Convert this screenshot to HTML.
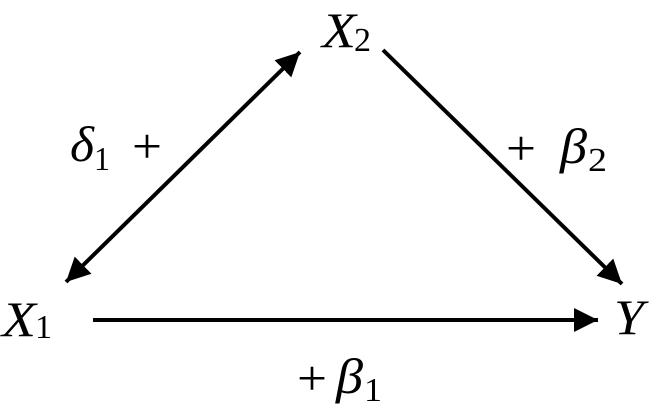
<!DOCTYPE html>
<html><head><style>html,body{margin:0;padding:0;background:#fff}</style></head>
<body>
<svg width="660" height="412" viewBox="0 0 660 412" xmlns="http://www.w3.org/2000/svg">
<defs>
<marker id="a" viewBox="0 0 10 10" refX="10" refY="5" markerWidth="6" markerHeight="6" markerUnits="strokeWidth" orient="auto-start-reverse">
<path d="M0,0 L10,5 L0,10 z" fill="#000"/></marker>
</defs>
<g stroke="#000" stroke-width="4" fill="none">
<line x1="66" y1="282" x2="300" y2="52" marker-start="url(#a)" marker-end="url(#a)"/>
<line x1="383" y1="50" x2="622" y2="284" marker-end="url(#a)"/>
<line x1="93" y1="320" x2="598" y2="320" marker-end="url(#a)"/>
</g>
<g style="font-family:'Liberation Serif',serif" font-size="50" fill="#000">
<text x="322" y="47" font-style="italic" textLength="34" lengthAdjust="spacingAndGlyphs">X</text>
<text x="354" y="51" font-size="34" textLength="17" lengthAdjust="spacingAndGlyphs">2</text>
<text x="2" y="336" font-style="italic" textLength="34" lengthAdjust="spacingAndGlyphs">X</text>
<text x="35" y="338" font-size="34" textLength="17" lengthAdjust="spacingAndGlyphs">1</text>
<text x="614" y="334" font-style="italic" textLength="30" lengthAdjust="spacingAndGlyphs">Y</text>
<text x="70" y="161" font-style="italic" textLength="24" lengthAdjust="spacingAndGlyphs">δ</text>
<text x="94" y="170" font-size="34" textLength="16" lengthAdjust="spacingAndGlyphs">1</text>
<text x="132" y="163" textLength="30" lengthAdjust="spacingAndGlyphs">+</text>
<text x="506" y="165" textLength="30" lengthAdjust="spacingAndGlyphs">+</text>
<text x="560" y="163" font-style="italic" textLength="27" lengthAdjust="spacingAndGlyphs">β</text>
<text x="588" y="171" font-size="34" textLength="19" lengthAdjust="spacingAndGlyphs">2</text>
<text x="297" y="395" textLength="30" lengthAdjust="spacingAndGlyphs">+</text>
<text x="336" y="393" font-style="italic" textLength="27" lengthAdjust="spacingAndGlyphs">β</text>
<text x="364" y="401" font-size="34" textLength="18" lengthAdjust="spacingAndGlyphs">1</text>
</g>
</svg>
</body></html>
